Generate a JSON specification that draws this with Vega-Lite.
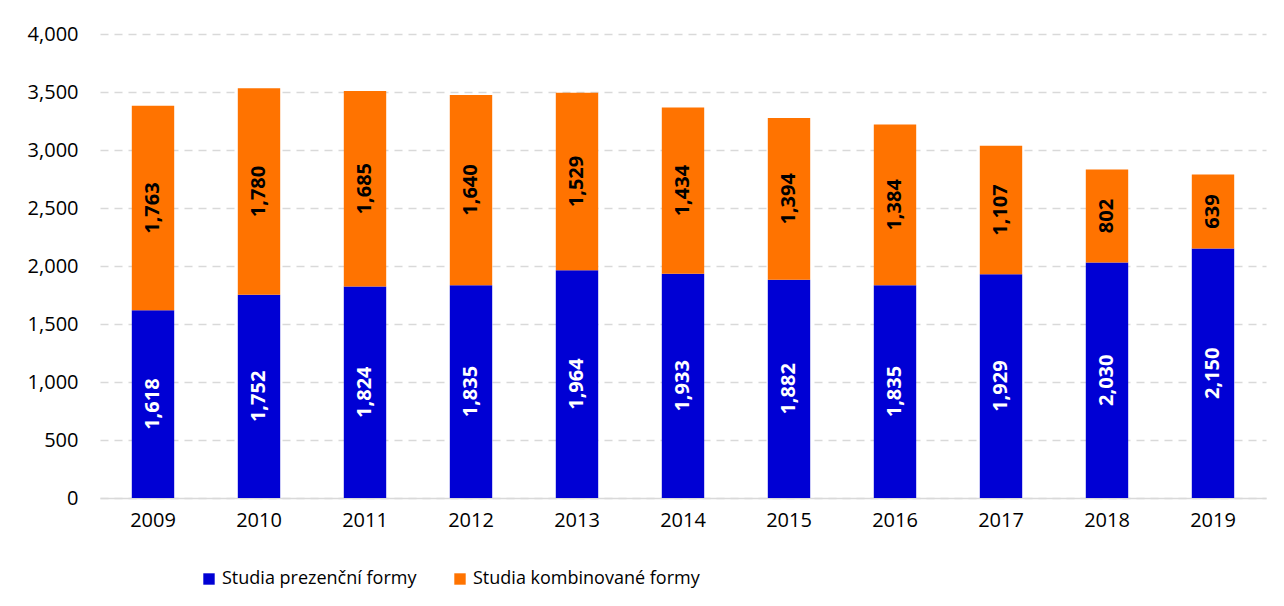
{
  "$schema": "https://vega.github.io/schema/vega-lite/v6.json",
  "width": 1166,
  "height": 464,
  "padding": {"left": 27, "top": 24, "right": 18, "bottom": 10},
  "background": "white",
  "config": {
    "font": "Open Sans",
    "view": {"stroke": null},
    "axis": {"labelFont": "Open Sans", "labelFontSize": 20, "labelColor": "#000000"}
  },
  "data": {
    "values": [
      {"year": "2009", "series": "Studia prezenční formy", "value": 1618},
      {"year": "2009", "series": "Studia kombinované formy", "value": 1763},
      {"year": "2010", "series": "Studia prezenční formy", "value": 1752},
      {"year": "2010", "series": "Studia kombinované formy", "value": 1780},
      {"year": "2011", "series": "Studia prezenční formy", "value": 1824},
      {"year": "2011", "series": "Studia kombinované formy", "value": 1685},
      {"year": "2012", "series": "Studia prezenční formy", "value": 1835},
      {"year": "2012", "series": "Studia kombinované formy", "value": 1640},
      {"year": "2013", "series": "Studia prezenční formy", "value": 1964},
      {"year": "2013", "series": "Studia kombinované formy", "value": 1529},
      {"year": "2014", "series": "Studia prezenční formy", "value": 1933},
      {"year": "2014", "series": "Studia kombinované formy", "value": 1434},
      {"year": "2015", "series": "Studia prezenční formy", "value": 1882},
      {"year": "2015", "series": "Studia kombinované formy", "value": 1394},
      {"year": "2016", "series": "Studia prezenční formy", "value": 1835},
      {"year": "2016", "series": "Studia kombinované formy", "value": 1384},
      {"year": "2017", "series": "Studia prezenční formy", "value": 1929},
      {"year": "2017", "series": "Studia kombinované formy", "value": 1107},
      {"year": "2018", "series": "Studia prezenční formy", "value": 2030},
      {"year": "2018", "series": "Studia kombinované formy", "value": 802},
      {"year": "2019", "series": "Studia prezenční formy", "value": 2150},
      {"year": "2019", "series": "Studia kombinované formy", "value": 639}
    ]
  },
  "transform": [
    {"stack": "value", "groupby": ["year"], "sort": [{"field": "series", "order": "descending"}], "as": ["y0", "y1"]},
    {"calculate": "(datum.y0 + datum.y1) / 2", "as": "mid"}
  ],
  "encoding": {
    "x": {
      "field": "year", "type": "nominal", "title": null,
      "scale": {"paddingInner": 0.6, "paddingOuter": 0.3},
      "axis": {"labelAngle": 0, "ticks": false, "domain": true, "domainColor": "#D9D9D9", "domainWidth": 1.5, "labelPadding": 12}
    }
  },
  "layer": [
    {
      "mark": {"type": "bar"},
      "encoding": {
        "y": {
          "field": "y0", "type": "quantitative", "title": null,
          "scale": {"domain": [0, 4000], "nice": false},
          "axis": {"values": [0, 500, 1000, 1500, 2000, 2500, 3000, 3500, 4000], "format": ",d", "ticks": false, "domain": false, "labelPadding": 22, "grid": true, "gridColor": "#D9D9D9", "gridDash": [8, 6], "gridWidth": 1.5}
        },
        "y2": {"field": "y1"},
        "color": {
          "field": "series", "type": "nominal",
          "scale": {"domain": ["Studia prezenční formy", "Studia kombinované formy"], "range": ["#0000D4", "#FF7300"]},
          "legend": {"orient": "none", "legendX": 100, "legendY": 536, "title": null, "direction": "horizontal", "symbolType": "square", "symbolSize": 130, "symbolStrokeWidth": 0, "labelFontSize": 18, "labelFont": "Open Sans", "labelColor": "#000000", "columnPadding": 34, "labelLimit": 400}
        }
      }
    },
    {
      "mark": {"type": "text", "angle": 270, "fontWeight": "bold", "fontSize": 20, "font": "Open Sans", "baseline": "middle", "align": "center"},
      "encoding": {
        "y": {"field": "mid", "type": "quantitative"},
        "text": {"field": "value", "type": "quantitative", "format": ","},
        "color": {"condition": {"test": "datum.series == 'Studia prezenční formy'", "value": "white"}, "value": "black"}
      }
    }
  ]
}
